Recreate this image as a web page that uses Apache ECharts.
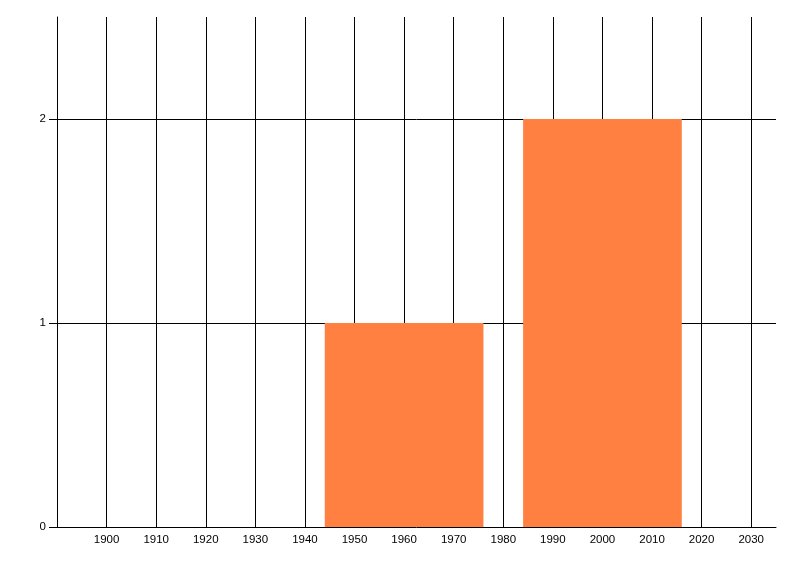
<!DOCTYPE html>
<html>
<head>
<meta charset="utf-8">
<script src="https://cdn.jsdelivr.net/npm/echarts@6/dist/echarts.min.js"></script>
<style>html,body{margin:0;padding:0;background:#fff}#c{width:800px;height:576px}</style>
</head>
<body>
<div id="c"></div>
<script>
// Bin data: start year, end year, count
const binStarts = [1944, 1984];
const binEnds = [1976, 2016];
const binValues = [1, 2];
const xTickLabels = [1900, 1910, 1920, 1930, 1940, 1950, 1960, 1970, 1980, 1990, 2000, 2010, 2020, 2030];
const yTickLabels = [0, 1, 2];

const data = binStarts.map((s, i) => [s, binEnds[i], binValues[i]]);
const font = "'Liberation Sans', Arial, sans-serif";

const chart = echarts.init(document.getElementById('c'), null, {renderer: 'canvas'});
chart.setOption({
  animation: false,
  backgroundColor: '#fff',
  grid: {left: 57, right: 24, top: 17, bottom: 49, containLabel: false},
  xAxis: {
    type: 'value', min: 1890, max: 2035, interval: 10,
    axisLine: {show: true, lineStyle: {color: '#000', width: 1}},
    axisTick: {show: false},
    axisLabel: {customValues: xTickLabels, formatter: v => String(v), color: '#000', fontSize: 11.5, fontFamily: font, margin: 7},
    splitLine: {show: true, showMinLine: false, showMaxLine: false, lineStyle: {color: '#000', width: 1}}
  },
  yAxis: {
    type: 'value', min: 0, max: 2.5, interval: 1,
    axisLine: {show: true, lineStyle: {color: '#000', width: 1}},
    axisTick: {show: true, customValues: yTickLabels, length: 8, lineStyle: {color: '#000'}},
    axisLabel: {customValues: yTickLabels, formatter: v => String(v), color: '#000', fontSize: 11.5, fontFamily: font, margin: 11},
    splitLine: {show: true, showMinLine: false, showMaxLine: true, lineStyle: {color: '#000', width: 1}}
  },
  series: [{
    type: 'custom',
    data: data,
    encode: {x: [0, 1], y: 2},
    renderItem: function (params, api) {
      const p0 = api.coord([api.value(0), 0]);
      const p1 = api.coord([api.value(1), api.value(2)]);
      return {
        type: 'rect',
        shape: {x: p0[0], y: p1[1], width: p1[0] - p0[0], height: p0[1] - p1[1]},
        style: {fill: '#FF8040'}
      };
    }
  }]
});
</script>
</body>
</html>
